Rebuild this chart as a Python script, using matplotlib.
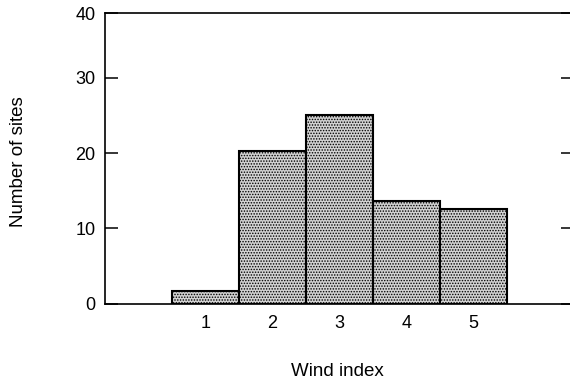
import matplotlib
matplotlib.use("Agg")
import matplotlib.pyplot as plt

# Data
wind_index = [1, 2, 3, 4, 5]
num_sites = [1.7, 20.3, 25.0, 13.6, 12.5]
ytick_values = [0, 10, 20, 30, 40]
xlabel = "Wind index"
ylabel = "Number of sites"

plt.rcParams['font.family'] = ['Liberation Sans', 'DejaVu Sans']
plt.rcParams['hatch.color'] = '#555555'
plt.rcParams['hatch.linewidth'] = 0.7
plt.rcParams['ytick.direction'] = 'in'

fig = plt.figure(figsize=(5.7, 3.87), dpi=100)
ax = fig.add_axes([105/570, 83.4/387, 469/570, 290.6/387])

ax.bar(wind_index, num_sites, width=1.0, facecolor='#d2d2d2', edgecolor='black',
       linewidth=1.5, hatch='......', zorder=2)

ax.set_xlim(-0.5, 6.5)
ytop = 38.6
ax.set_ylim(0, ytop)

ax.set_xticks(wind_index)
ax.set_xticklabels([str(v) for v in wind_index], fontsize=13)
ax.tick_params(axis='x', length=0, pad=8)

ax.set_yticks([min(v, ytop) for v in ytick_values])
ax.set_yticklabels([str(v) for v in ytick_values], fontsize=13)
ax.tick_params(axis='y', which='major', direction='in', length=9.4, width=1.1, pad=7,
               left=True, right=True)

for s in ax.spines.values():
    s.set_linewidth(1.2)
ax.spines['right'].set_visible(False)

fig.text(337/570, 1 - 372/387, xlabel, ha='center', va='center', fontsize=13.5)
fig.text(19/570, 1 - 162/387, ylabel, ha='center', va='center', rotation=90, fontsize=13.5)

fig.savefig("out.png", dpi=100)
